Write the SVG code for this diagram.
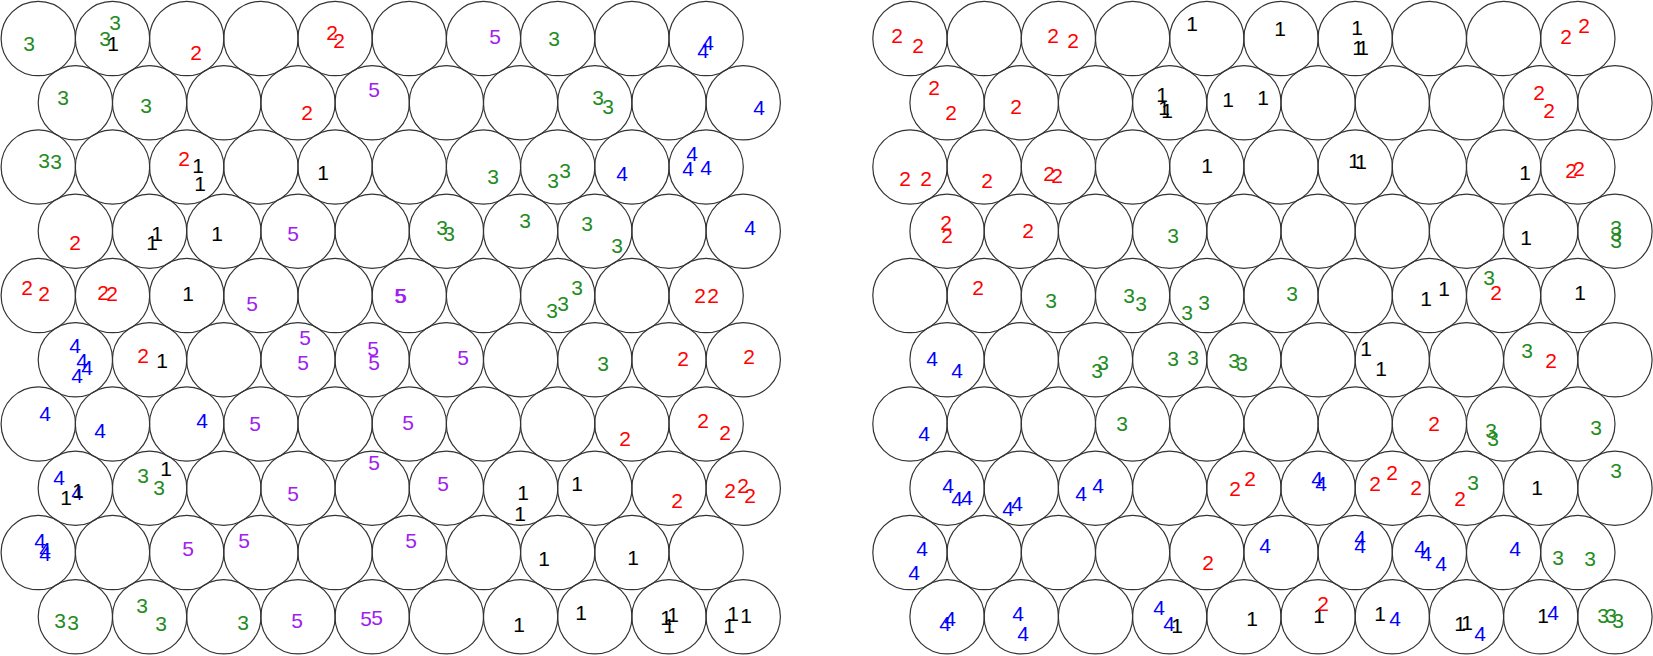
<svg xmlns="http://www.w3.org/2000/svg" width="1653" height="656" viewBox="0 0 1653 656">
<style>
circle{fill:none;stroke:#333;stroke-width:1.2}
text{font-family:"Liberation Sans",Arial,Helvetica,sans-serif;font-size:21px;text-anchor:middle}
.d1{fill:#000}.d2{fill:#f00}.d3{fill:#228B22}.d4{fill:#00f}.d5{fill:#A020F0}
</style>
<rect width="1653" height="656" fill="#fff"/>
<g id="left-map">
<g id="L0-0"><circle cx="38.3" cy="38.5" r="37.2"/><text class="d3" x="29" y="50.5">3</text></g>
<g id="L0-1"><circle cx="112.5" cy="38.5" r="37.2"/><text class="d3" x="115" y="29.5">3</text><text class="d3" x="105" y="45.5">3</text><text class="d1" x="113" y="50.5">1</text></g>
<g id="L0-2"><circle cx="186.7" cy="38.5" r="37.2"/><text class="d2" x="196" y="59.5">2</text></g>
<g id="L0-3"><circle cx="260.9" cy="38.5" r="37.2"/></g>
<g id="L0-4"><circle cx="335.1" cy="38.5" r="37.2"/><text class="d2" x="332" y="39.5">2</text><text class="d2" x="339" y="47.5">2</text></g>
<g id="L0-5"><circle cx="409.3" cy="38.5" r="37.2"/></g>
<g id="L0-6"><circle cx="483.5" cy="38.5" r="37.2"/><text class="d5" x="495" y="43.5">5</text></g>
<g id="L0-7"><circle cx="557.7" cy="38.5" r="37.2"/><text class="d3" x="554" y="45.5">3</text></g>
<g id="L0-8"><circle cx="631.9" cy="38.5" r="37.2"/></g>
<g id="L0-9"><circle cx="706.1" cy="38.5" r="37.2"/><text class="d4" x="708" y="49.5">4</text><text class="d4" x="703" y="57.5">4</text></g>

<g id="L1-0"><circle cx="75.4" cy="102.75" r="37.2"/><text class="d3" x="63" y="104.5">3</text></g>
<g id="L1-1"><circle cx="149.6" cy="102.75" r="37.2"/><text class="d3" x="146" y="112.5">3</text></g>
<g id="L1-2"><circle cx="223.8" cy="102.75" r="37.2"/></g>
<g id="L1-3"><circle cx="298" cy="102.75" r="37.2"/><text class="d2" x="307" y="119.5">2</text></g>
<g id="L1-4"><circle cx="372.2" cy="102.75" r="37.2"/><text class="d5" x="374" y="96.5">5</text></g>
<g id="L1-5"><circle cx="446.4" cy="102.75" r="37.2"/></g>
<g id="L1-6"><circle cx="520.6" cy="102.75" r="37.2"/></g>
<g id="L1-7"><circle cx="594.8" cy="102.75" r="37.2"/><text class="d3" x="598" y="104.5">3</text><text class="d3" x="608" y="113.5">3</text></g>
<g id="L1-8"><circle cx="669" cy="102.75" r="37.2"/></g>
<g id="L1-9"><circle cx="743.2" cy="102.75" r="37.2"/><text class="d4" x="759" y="114.5">4</text></g>

<g id="L2-0"><circle cx="38.3" cy="167" r="37.2"/><text class="d3" x="44" y="167.5">3</text><text class="d3" x="56" y="168.5">3</text></g>
<g id="L2-1"><circle cx="112.5" cy="167" r="37.2"/></g>
<g id="L2-2"><circle cx="186.7" cy="167" r="37.2"/><text class="d2" x="184" y="165.5">2</text><text class="d1" x="198" y="172.5">1</text><text class="d1" x="200" y="190.5">1</text></g>
<g id="L2-3"><circle cx="260.9" cy="167" r="37.2"/></g>
<g id="L2-4"><circle cx="335.1" cy="167" r="37.2"/><text class="d1" x="323" y="179.5">1</text></g>
<g id="L2-5"><circle cx="409.3" cy="167" r="37.2"/></g>
<g id="L2-6"><circle cx="483.5" cy="167" r="37.2"/><text class="d3" x="493" y="183.5">3</text></g>
<g id="L2-7"><circle cx="557.7" cy="167" r="37.2"/><text class="d3" x="553" y="187.5">3</text><text class="d3" x="565" y="177.5">3</text></g>
<g id="L2-8"><circle cx="631.9" cy="167" r="37.2"/><text class="d4" x="622" y="180.5">4</text></g>
<g id="L2-9"><circle cx="706.1" cy="167" r="37.2"/><text class="d4" x="692" y="160.5">4</text><text class="d4" x="688" y="175.5">4</text><text class="d4" x="706" y="174.5">4</text></g>

<g id="L3-0"><circle cx="75.4" cy="231.25" r="37.2"/><text class="d2" x="75" y="249.5">2</text></g>
<g id="L3-1"><circle cx="149.6" cy="231.25" r="37.2"/><text class="d1" x="152" y="249.5">1</text><text class="d1" x="157" y="240.5">1</text></g>
<g id="L3-2"><circle cx="223.8" cy="231.25" r="37.2"/><text class="d1" x="217" y="240.5">1</text></g>
<g id="L3-3"><circle cx="298" cy="231.25" r="37.2"/><text class="d5" x="293" y="240.5">5</text></g>
<g id="L3-4"><circle cx="372.2" cy="231.25" r="37.2"/></g>
<g id="L3-5"><circle cx="446.4" cy="231.25" r="37.2"/><text class="d3" x="442" y="234.5">3</text><text class="d3" x="449" y="240.5">3</text></g>
<g id="L3-6"><circle cx="520.6" cy="231.25" r="37.2"/><text class="d3" x="525" y="227.5">3</text></g>
<g id="L3-7"><circle cx="594.8" cy="231.25" r="37.2"/><text class="d3" x="587" y="230.5">3</text><text class="d3" x="617" y="252.5">3</text></g>
<g id="L3-8"><circle cx="669" cy="231.25" r="37.2"/></g>
<g id="L3-9"><circle cx="743.2" cy="231.25" r="37.2"/><text class="d4" x="750" y="234.5">4</text></g>

<g id="L4-0"><circle cx="38.3" cy="295.5" r="37.2"/><text class="d2" x="27" y="294.5">2</text><text class="d2" x="44" y="300.5">2</text></g>
<g id="L4-1"><circle cx="112.5" cy="295.5" r="37.2"/><text class="d2" x="103" y="299.5">2</text><text class="d2" x="112" y="300.5">2</text></g>
<g id="L4-2"><circle cx="186.7" cy="295.5" r="37.2"/><text class="d1" x="188" y="300.5">1</text></g>
<g id="L4-3"><circle cx="260.9" cy="295.5" r="37.2"/><text class="d5" x="252" y="310.5">5</text></g>
<g id="L4-4"><circle cx="335.1" cy="295.5" r="37.2"/></g>
<g id="L4-5"><circle cx="409.3" cy="295.5" r="37.2"/><text class="d5" x="400" y="302.5">5</text><text class="d5" x="401" y="302.5">5</text></g>
<g id="L4-6"><circle cx="483.5" cy="295.5" r="37.2"/></g>
<g id="L4-7"><circle cx="557.7" cy="295.5" r="37.2"/><text class="d3" x="552" y="317.5">3</text><text class="d3" x="563" y="310.5">3</text><text class="d3" x="577" y="294.5">3</text></g>
<g id="L4-8"><circle cx="631.9" cy="295.5" r="37.2"/></g>
<g id="L4-9"><circle cx="706.1" cy="295.5" r="37.2"/><text class="d2" x="700" y="302.5">2</text><text class="d2" x="713" y="302.5">2</text></g>

<g id="L5-0"><circle cx="75.4" cy="359.75" r="37.2"/><text class="d4" x="75" y="352.5">4</text><text class="d4" x="82" y="367.5">4</text><text class="d4" x="87" y="374.5">4</text><text class="d4" x="77" y="382.5">4</text></g>
<g id="L5-1"><circle cx="149.6" cy="359.75" r="37.2"/><text class="d2" x="143" y="362.5">2</text><text class="d1" x="162" y="367.5">1</text></g>
<g id="L5-2"><circle cx="223.8" cy="359.75" r="37.2"/></g>
<g id="L5-3"><circle cx="298" cy="359.75" r="37.2"/><text class="d5" x="305" y="344.5">5</text><text class="d5" x="303" y="369.5">5</text></g>
<g id="L5-4"><circle cx="372.2" cy="359.75" r="37.2"/><text class="d5" x="373" y="355.5">5</text><text class="d5" x="374" y="369.5">5</text></g>
<g id="L5-5"><circle cx="446.4" cy="359.75" r="37.2"/><text class="d5" x="463" y="364.5">5</text></g>
<g id="L5-6"><circle cx="520.6" cy="359.75" r="37.2"/></g>
<g id="L5-7"><circle cx="594.8" cy="359.75" r="37.2"/><text class="d3" x="603" y="370.5">3</text></g>
<g id="L5-8"><circle cx="669" cy="359.75" r="37.2"/><text class="d2" x="683" y="365.5">2</text></g>
<g id="L5-9"><circle cx="743.2" cy="359.75" r="37.2"/><text class="d2" x="749" y="363.5">2</text></g>

<g id="L6-0"><circle cx="38.3" cy="424" r="37.2"/><text class="d4" x="45" y="420.5">4</text></g>
<g id="L6-1"><circle cx="112.5" cy="424" r="37.2"/><text class="d4" x="100" y="437.5">4</text></g>
<g id="L6-2"><circle cx="186.7" cy="424" r="37.2"/><text class="d4" x="202" y="427.5">4</text></g>
<g id="L6-3"><circle cx="260.9" cy="424" r="37.2"/><text class="d5" x="255" y="430.5">5</text></g>
<g id="L6-4"><circle cx="335.1" cy="424" r="37.2"/></g>
<g id="L6-5"><circle cx="409.3" cy="424" r="37.2"/><text class="d5" x="408" y="429.5">5</text></g>
<g id="L6-6"><circle cx="483.5" cy="424" r="37.2"/></g>
<g id="L6-7"><circle cx="557.7" cy="424" r="37.2"/></g>
<g id="L6-8"><circle cx="631.9" cy="424" r="37.2"/><text class="d2" x="625" y="445.5">2</text></g>
<g id="L6-9"><circle cx="706.1" cy="424" r="37.2"/><text class="d2" x="703" y="427.5">2</text><text class="d2" x="725" y="439.5">2</text></g>

<g id="L7-0"><circle cx="75.4" cy="488.25" r="37.2"/><text class="d4" x="59" y="484.5">4</text><text class="d1" x="66" y="504.5">1</text><text class="d4" x="77" y="499.5">4</text><text class="d1" x="78" y="497.5">1</text></g>
<g id="L7-1"><circle cx="149.6" cy="488.25" r="37.2"/><text class="d3" x="143" y="482.5">3</text><text class="d3" x="159" y="494.5">3</text><text class="d1" x="166" y="475.5">1</text></g>
<g id="L7-2"><circle cx="223.8" cy="488.25" r="37.2"/></g>
<g id="L7-3"><circle cx="298" cy="488.25" r="37.2"/><text class="d5" x="293" y="500.5">5</text></g>
<g id="L7-4"><circle cx="372.2" cy="488.25" r="37.2"/><text class="d5" x="374" y="469.5">5</text></g>
<g id="L7-5"><circle cx="446.4" cy="488.25" r="37.2"/><text class="d5" x="443" y="490.5">5</text></g>
<g id="L7-6"><circle cx="520.6" cy="488.25" r="37.2"/><text class="d1" x="523" y="499.5">1</text><text class="d1" x="520" y="520.5">1</text></g>
<g id="L7-7"><circle cx="594.8" cy="488.25" r="37.2"/><text class="d1" x="577" y="490.5">1</text></g>
<g id="L7-8"><circle cx="669" cy="488.25" r="37.2"/><text class="d2" x="677" y="507.5">2</text></g>
<g id="L7-9"><circle cx="743.2" cy="488.25" r="37.2"/><text class="d2" x="730" y="497.5">2</text><text class="d2" x="743" y="492.5">2</text><text class="d2" x="750" y="502.5">2</text></g>

<g id="L8-0"><circle cx="38.3" cy="552.5" r="37.2"/><text class="d4" x="40" y="547.5">4</text><text class="d4" x="45" y="556.5">4</text><text class="d4" x="45" y="560.5">4</text></g>
<g id="L8-1"><circle cx="112.5" cy="552.5" r="37.2"/></g>
<g id="L8-2"><circle cx="186.7" cy="552.5" r="37.2"/><text class="d5" x="188" y="555.5">5</text></g>
<g id="L8-3"><circle cx="260.9" cy="552.5" r="37.2"/><text class="d5" x="244" y="547.5">5</text></g>
<g id="L8-4"><circle cx="335.1" cy="552.5" r="37.2"/></g>
<g id="L8-5"><circle cx="409.3" cy="552.5" r="37.2"/><text class="d5" x="411" y="547.5">5</text></g>
<g id="L8-6"><circle cx="483.5" cy="552.5" r="37.2"/></g>
<g id="L8-7"><circle cx="557.7" cy="552.5" r="37.2"/><text class="d1" x="544" y="565.5">1</text></g>
<g id="L8-8"><circle cx="631.9" cy="552.5" r="37.2"/><text class="d1" x="633" y="564.5">1</text></g>
<g id="L8-9"><circle cx="706.1" cy="552.5" r="37.2"/></g>

<g id="L9-0"><circle cx="75.4" cy="616.75" r="37.2"/><text class="d3" x="60" y="627.5">3</text><text class="d3" x="73" y="629.5">3</text></g>
<g id="L9-1"><circle cx="149.6" cy="616.75" r="37.2"/><text class="d3" x="142" y="612.5">3</text><text class="d3" x="161" y="630.5">3</text></g>
<g id="L9-2"><circle cx="223.8" cy="616.75" r="37.2"/><text class="d3" x="243" y="629.5">3</text></g>
<g id="L9-3"><circle cx="298" cy="616.75" r="37.2"/><text class="d5" x="297" y="627.5">5</text></g>
<g id="L9-4"><circle cx="372.2" cy="616.75" r="37.2"/><text class="d5" x="366" y="625.5">5</text><text class="d5" x="377" y="624.5">5</text></g>
<g id="L9-5"><circle cx="446.4" cy="616.75" r="37.2"/></g>
<g id="L9-6"><circle cx="520.6" cy="616.75" r="37.2"/><text class="d1" x="519" y="631.5">1</text></g>
<g id="L9-7"><circle cx="594.8" cy="616.75" r="37.2"/><text class="d1" x="581" y="619.5">1</text></g>
<g id="L9-8"><circle cx="669" cy="616.75" r="37.2"/><text class="d1" x="666" y="624.5">1</text><text class="d1" x="673" y="621.5">1</text><text class="d1" x="669" y="632.5">1</text></g>
<g id="L9-9"><circle cx="743.2" cy="616.75" r="37.2"/><text class="d1" x="733" y="620.5">1</text><text class="d1" x="746" y="622.5">1</text><text class="d1" x="729" y="632.5">1</text></g>
</g>

<g id="right-map">
<g id="R0-0"><circle cx="910" cy="38.5" r="37.2"/><text class="d2" x="897" y="42.5">2</text><text class="d2" x="918" y="52.5">2</text></g>
<g id="R0-1"><circle cx="984.2" cy="38.5" r="37.2"/></g>
<g id="R0-2"><circle cx="1058.4" cy="38.5" r="37.2"/><text class="d2" x="1053" y="42.5">2</text><text class="d2" x="1073" y="47.5">2</text></g>
<g id="R0-3"><circle cx="1132.6" cy="38.5" r="37.2"/></g>
<g id="R0-4"><circle cx="1206.8" cy="38.5" r="37.2"/><text class="d1" x="1192" y="30.5">1</text></g>
<g id="R0-5"><circle cx="1281" cy="38.5" r="37.2"/><text class="d1" x="1280" y="35.5">1</text></g>
<g id="R0-6"><circle cx="1355.2" cy="38.5" r="37.2"/><text class="d1" x="1357" y="34.5">1</text><text class="d1" x="1358" y="54.5">1</text><text class="d1" x="1363" y="54.5">1</text></g>
<g id="R0-7"><circle cx="1429.4" cy="38.5" r="37.2"/></g>
<g id="R0-8"><circle cx="1503.6" cy="38.5" r="37.2"/></g>
<g id="R0-9"><circle cx="1577.8" cy="38.5" r="37.2"/><text class="d2" x="1566" y="43.5">2</text><text class="d2" x="1584" y="32.5">2</text></g>

<g id="R1-0"><circle cx="947.1" cy="102.75" r="37.2"/><text class="d2" x="934" y="94.5">2</text><text class="d2" x="951" y="119.5">2</text></g>
<g id="R1-1"><circle cx="1021.3" cy="102.75" r="37.2"/><text class="d2" x="1016" y="113.5">2</text></g>
<g id="R1-2"><circle cx="1095.5" cy="102.75" r="37.2"/></g>
<g id="R1-3"><circle cx="1169.7" cy="102.75" r="37.2"/><text class="d1" x="1162" y="101.5">1</text><text class="d1" x="1164" y="114.5">1</text><text class="d1" x="1167" y="117.5">1</text></g>
<g id="R1-4"><circle cx="1243.9" cy="102.75" r="37.2"/><text class="d1" x="1228" y="106.5">1</text><text class="d1" x="1263" y="104.5">1</text></g>
<g id="R1-5"><circle cx="1318.1" cy="102.75" r="37.2"/></g>
<g id="R1-6"><circle cx="1392.3" cy="102.75" r="37.2"/></g>
<g id="R1-7"><circle cx="1466.5" cy="102.75" r="37.2"/></g>
<g id="R1-8"><circle cx="1540.7" cy="102.75" r="37.2"/><text class="d2" x="1539" y="99.5">2</text><text class="d2" x="1549" y="117.5">2</text></g>
<g id="R1-9"><circle cx="1614.9" cy="102.75" r="37.2"/></g>

<g id="R2-0"><circle cx="910" cy="167" r="37.2"/><text class="d2" x="905" y="185.5">2</text><text class="d2" x="926" y="185.5">2</text></g>
<g id="R2-1"><circle cx="984.2" cy="167" r="37.2"/><text class="d2" x="987" y="187.5">2</text></g>
<g id="R2-2"><circle cx="1058.4" cy="167" r="37.2"/><text class="d2" x="1049" y="180.5">2</text><text class="d2" x="1057" y="182.5">2</text></g>
<g id="R2-3"><circle cx="1132.6" cy="167" r="37.2"/></g>
<g id="R2-4"><circle cx="1206.8" cy="167" r="37.2"/><text class="d1" x="1207" y="172.5">1</text></g>
<g id="R2-5"><circle cx="1281" cy="167" r="37.2"/></g>
<g id="R2-6"><circle cx="1355.2" cy="167" r="37.2"/><text class="d1" x="1354" y="167.5">1</text><text class="d1" x="1361" y="168.5">1</text></g>
<g id="R2-7"><circle cx="1429.4" cy="167" r="37.2"/></g>
<g id="R2-8"><circle cx="1503.6" cy="167" r="37.2"/><text class="d1" x="1525" y="179.5">1</text></g>
<g id="R2-9"><circle cx="1577.8" cy="167" r="37.2"/><text class="d2" x="1571" y="177.5">2</text><text class="d2" x="1579" y="175.5">2</text></g>

<g id="R3-0"><circle cx="947.1" cy="231.25" r="37.2"/><text class="d2" x="946" y="229.5">2</text><text class="d2" x="947" y="242.5">2</text></g>
<g id="R3-1"><circle cx="1021.3" cy="231.25" r="37.2"/><text class="d2" x="1028" y="237.5">2</text></g>
<g id="R3-2"><circle cx="1095.5" cy="231.25" r="37.2"/></g>
<g id="R3-3"><circle cx="1169.7" cy="231.25" r="37.2"/><text class="d3" x="1173" y="242.5">3</text></g>
<g id="R3-4"><circle cx="1243.9" cy="231.25" r="37.2"/></g>
<g id="R3-5"><circle cx="1318.1" cy="231.25" r="37.2"/></g>
<g id="R3-6"><circle cx="1392.3" cy="231.25" r="37.2"/></g>
<g id="R3-7"><circle cx="1466.5" cy="231.25" r="37.2"/></g>
<g id="R3-8"><circle cx="1540.7" cy="231.25" r="37.2"/><text class="d1" x="1526" y="244.5">1</text></g>
<g id="R3-9"><circle cx="1614.9" cy="231.25" r="37.2"/><text class="d3" x="1616" y="234.5">3</text><text class="d3" x="1616" y="240.5">3</text><text class="d3" x="1616" y="247.5">3</text></g>

<g id="R4-0"><circle cx="910" cy="295.5" r="37.2"/></g>
<g id="R4-1"><circle cx="984.2" cy="295.5" r="37.2"/><text class="d2" x="978" y="294.5">2</text></g>
<g id="R4-2"><circle cx="1058.4" cy="295.5" r="37.2"/><text class="d3" x="1051" y="307.5">3</text></g>
<g id="R4-3"><circle cx="1132.6" cy="295.5" r="37.2"/><text class="d3" x="1129" y="302.5">3</text><text class="d3" x="1141" y="310.5">3</text></g>
<g id="R4-4"><circle cx="1206.8" cy="295.5" r="37.2"/><text class="d3" x="1187" y="319.5">3</text><text class="d3" x="1204" y="309.5">3</text></g>
<g id="R4-5"><circle cx="1281" cy="295.5" r="37.2"/><text class="d3" x="1292" y="300.5">3</text></g>
<g id="R4-6"><circle cx="1355.2" cy="295.5" r="37.2"/></g>
<g id="R4-7"><circle cx="1429.4" cy="295.5" r="37.2"/><text class="d1" x="1426" y="305.5">1</text><text class="d1" x="1444" y="295.5">1</text></g>
<g id="R4-8"><circle cx="1503.6" cy="295.5" r="37.2"/><text class="d3" x="1489" y="284.5">3</text><text class="d2" x="1496" y="299.5">2</text></g>
<g id="R4-9"><circle cx="1577.8" cy="295.5" r="37.2"/><text class="d1" x="1580" y="299.5">1</text></g>

<g id="R5-0"><circle cx="947.1" cy="359.75" r="37.2"/><text class="d4" x="932" y="365.5">4</text><text class="d4" x="957" y="377.5">4</text></g>
<g id="R5-1"><circle cx="1021.3" cy="359.75" r="37.2"/></g>
<g id="R5-2"><circle cx="1095.5" cy="359.75" r="37.2"/><text class="d3" x="1097" y="377.5">3</text><text class="d3" x="1103" y="369.5">3</text></g>
<g id="R5-3"><circle cx="1169.7" cy="359.75" r="37.2"/><text class="d3" x="1173" y="365.5">3</text><text class="d3" x="1193" y="364.5">3</text></g>
<g id="R5-4"><circle cx="1243.9" cy="359.75" r="37.2"/><text class="d3" x="1234" y="367.5">3</text><text class="d3" x="1242" y="370.5">3</text></g>
<g id="R5-5"><circle cx="1318.1" cy="359.75" r="37.2"/></g>
<g id="R5-6"><circle cx="1392.3" cy="359.75" r="37.2"/><text class="d1" x="1366" y="355.5">1</text><text class="d1" x="1381" y="375.5">1</text></g>
<g id="R5-7"><circle cx="1466.5" cy="359.75" r="37.2"/></g>
<g id="R5-8"><circle cx="1540.7" cy="359.75" r="37.2"/><text class="d3" x="1527" y="357.5">3</text><text class="d2" x="1551" y="367.5">2</text></g>
<g id="R5-9"><circle cx="1614.9" cy="359.75" r="37.2"/></g>

<g id="R6-0"><circle cx="910" cy="424" r="37.2"/><text class="d4" x="924" y="440.5">4</text></g>
<g id="R6-1"><circle cx="984.2" cy="424" r="37.2"/></g>
<g id="R6-2"><circle cx="1058.4" cy="424" r="37.2"/></g>
<g id="R6-3"><circle cx="1132.6" cy="424" r="37.2"/><text class="d3" x="1122" y="430.5">3</text></g>
<g id="R6-4"><circle cx="1206.8" cy="424" r="37.2"/></g>
<g id="R6-5"><circle cx="1281" cy="424" r="37.2"/></g>
<g id="R6-6"><circle cx="1355.2" cy="424" r="37.2"/></g>
<g id="R6-7"><circle cx="1429.4" cy="424" r="37.2"/><text class="d2" x="1434" y="430.5">2</text></g>
<g id="R6-8"><circle cx="1503.6" cy="424" r="37.2"/><text class="d3" x="1491" y="437.5">3</text><text class="d3" x="1493" y="445.5">3</text></g>
<g id="R6-9"><circle cx="1577.8" cy="424" r="37.2"/><text class="d3" x="1596" y="434.5">3</text></g>

<g id="R7-0"><circle cx="947.1" cy="488.25" r="37.2"/><text class="d4" x="948" y="492.5">4</text><text class="d4" x="957" y="505.5">4</text><text class="d4" x="967" y="504.5">4</text></g>
<g id="R7-1"><circle cx="1021.3" cy="488.25" r="37.2"/><text class="d4" x="1008" y="515.5">4</text><text class="d4" x="1017" y="510.5">4</text></g>
<g id="R7-2"><circle cx="1095.5" cy="488.25" r="37.2"/><text class="d4" x="1081" y="500.5">4</text><text class="d4" x="1098" y="492.5">4</text></g>
<g id="R7-3"><circle cx="1169.7" cy="488.25" r="37.2"/></g>
<g id="R7-4"><circle cx="1243.9" cy="488.25" r="37.2"/><text class="d2" x="1235" y="495.5">2</text><text class="d2" x="1250" y="485.5">2</text></g>
<g id="R7-5"><circle cx="1318.1" cy="488.25" r="37.2"/><text class="d4" x="1317" y="485.5">4</text><text class="d4" x="1321" y="490.5">4</text></g>
<g id="R7-6"><circle cx="1392.3" cy="488.25" r="37.2"/><text class="d2" x="1375" y="490.5">2</text><text class="d2" x="1392" y="479.5">2</text><text class="d2" x="1416" y="494.5">2</text></g>
<g id="R7-7"><circle cx="1466.5" cy="488.25" r="37.2"/><text class="d2" x="1460" y="505.5">2</text><text class="d3" x="1473" y="489.5">3</text></g>
<g id="R7-8"><circle cx="1540.7" cy="488.25" r="37.2"/><text class="d1" x="1537" y="494.5">1</text></g>
<g id="R7-9"><circle cx="1614.9" cy="488.25" r="37.2"/><text class="d3" x="1616" y="477.5">3</text></g>

<g id="R8-0"><circle cx="910" cy="552.5" r="37.2"/><text class="d4" x="922" y="555.5">4</text><text class="d4" x="914" y="579.5">4</text></g>
<g id="R8-1"><circle cx="984.2" cy="552.5" r="37.2"/></g>
<g id="R8-2"><circle cx="1058.4" cy="552.5" r="37.2"/></g>
<g id="R8-3"><circle cx="1132.6" cy="552.5" r="37.2"/></g>
<g id="R8-4"><circle cx="1206.8" cy="552.5" r="37.2"/><text class="d2" x="1208" y="569.5">2</text></g>
<g id="R8-5"><circle cx="1281" cy="552.5" r="37.2"/><text class="d4" x="1265" y="552.5">4</text></g>
<g id="R8-6"><circle cx="1355.2" cy="552.5" r="37.2"/><text class="d4" x="1360" y="544.5">4</text><text class="d4" x="1360" y="552.5">4</text></g>
<g id="R8-7"><circle cx="1429.4" cy="552.5" r="37.2"/><text class="d4" x="1420" y="554.5">4</text><text class="d4" x="1426" y="560.5">4</text><text class="d4" x="1441" y="570.5">4</text></g>
<g id="R8-8"><circle cx="1503.6" cy="552.5" r="37.2"/><text class="d4" x="1515" y="555.5">4</text></g>
<g id="R8-9"><circle cx="1577.8" cy="552.5" r="37.2"/><text class="d3" x="1558" y="564.5">3</text><text class="d3" x="1590" y="565.5">3</text></g>

<g id="R9-0"><circle cx="947.1" cy="616.75" r="37.2"/><text class="d4" x="945" y="630.5">4</text><text class="d4" x="950" y="625.5">4</text></g>
<g id="R9-1"><circle cx="1021.3" cy="616.75" r="37.2"/><text class="d4" x="1018" y="620.5">4</text><text class="d4" x="1023" y="640.5">4</text></g>
<g id="R9-2"><circle cx="1095.5" cy="616.75" r="37.2"/></g>
<g id="R9-3"><circle cx="1169.7" cy="616.75" r="37.2"/><text class="d4" x="1159" y="614.5">4</text><text class="d4" x="1169" y="630.5">4</text><text class="d1" x="1177" y="632.5">1</text></g>
<g id="R9-4"><circle cx="1243.9" cy="616.75" r="37.2"/><text class="d1" x="1252" y="625.5">1</text></g>
<g id="R9-5"><circle cx="1318.1" cy="616.75" r="37.2"/><text class="d1" x="1319" y="622.5">1</text><text class="d2" x="1323" y="610.5">2</text></g>
<g id="R9-6"><circle cx="1392.3" cy="616.75" r="37.2"/><text class="d1" x="1380" y="620.5">1</text><text class="d4" x="1395" y="625.5">4</text></g>
<g id="R9-7"><circle cx="1466.5" cy="616.75" r="37.2"/><text class="d1" x="1460" y="630.5">1</text><text class="d1" x="1467" y="629.5">1</text><text class="d4" x="1480" y="640.5">4</text></g>
<g id="R9-8"><circle cx="1540.7" cy="616.75" r="37.2"/><text class="d1" x="1543" y="622.5">1</text><text class="d4" x="1553" y="619.5">4</text></g>
<g id="R9-9"><circle cx="1614.9" cy="616.75" r="37.2"/><text class="d3" x="1603" y="622.5">3</text><text class="d3" x="1611" y="622.5">3</text><text class="d3" x="1618" y="627.5">3</text></g>
</g>
<g id="connectors"/>
</svg>
